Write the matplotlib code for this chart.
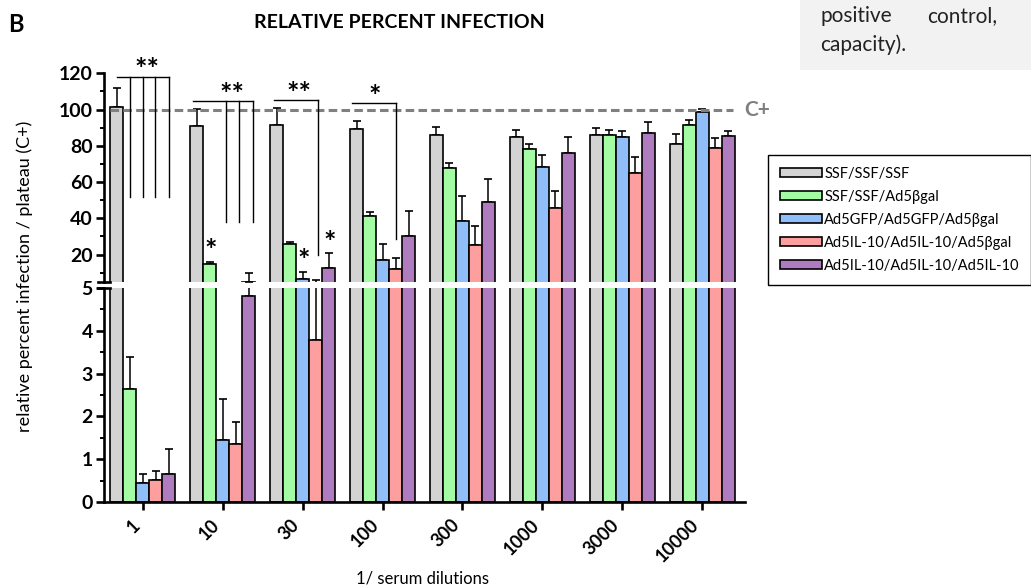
import matplotlib
matplotlib.use('Agg')
import matplotlib.pyplot as plt
import numpy as np
from matplotlib.patches import Rectangle

plt.rcParams['font.family'] = ['Lato', 'DejaVu Sans']

dilutions = ['1', '10', '30', '100', '300', '1000', '3000', '10000']
groups = ['SSF/SSF/SSF', 'SSF/SSF/Ad5βgal', 'Ad5GFP/Ad5GFP/Ad5βgal',
          'Ad5IL-10/Ad5IL-10/Ad5βgal', 'Ad5IL-10/Ad5IL-10/Ad5IL-10']
colors = ['#d3d3d3', '#a3fca3', '#90bef8', '#fe9f9f', '#b07cc0']

# mean and upper SD per dilution
ssf_mean = [101.2, 90.9, 91.5, 89.1, 86.0, 85.0, 85.8, 81.1]
ssf_sd = [10.5, 9.2, 9.2, 4.7, 4.5, 3.9, 4.0, 5.6]
bgal_mean = [2.64, 14.8, 25.8, 41.4, 67.9, 78.1, 86.0, 91.6]
bgal_sd = [0.74, 1.2, 1.3, 2.2, 2.6, 3.0, 2.5, 2.5]
gfp_mean = [0.44, 1.46, 6.3, 16.9, 38.7, 68.1, 85.0, 98.8]
gfp_sd = [0.21, 0.95, 4.2, 8.9, 13.6, 7.0, 3.2, 1.3]
il10b_mean = [0.51, 1.36, 3.77, 11.8, 25.2, 45.5, 64.8, 78.9]
il10b_sd = [0.21, 0.52, 2.1, 6.4, 10.5, 9.7, 9.0, 5.6]
il10_mean = [0.66, 4.81, 12.4, 30.2, 49.1, 76.2, 87.1, 85.2]
il10_sd = [0.59, 4.8, 8.6, 13.8, 12.6, 8.8, 6.2, 3.1]

means = [ssf_mean, bgal_mean, gfp_mean, il10b_mean, il10_mean]
sds = [ssf_sd, bgal_sd, gfp_sd, il10b_sd, il10_sd]

c_plus = 100

# significance brackets: group, bar height, left, right, drop offsets, drop bottom, label, label offset
brackets = [
    (0, 118.1, -0.325, 0.325, [-0.16, 0.0, 0.15, 0.325], 51.7, '**', 0.05),
    (1, 104.7, -0.375, 0.375, [0.04, 0.2, 0.375], 38.1, '**', 0.11),
    (2, 105.3, -0.36, 0.19, [0.19], 19.7, '**', -0.05),
    (3, 103.6, -0.38, 0.17, [0.17], 28.4, '*', -0.1),
]
# single stars over bars: group, series, height
bar_stars = [(1, 1, 24.2), (2, 2, 18.7), (2, 4, 29.1)]

W, H = 1031, 588
fig = plt.figure(figsize=(W / 100, H / 100), dpi=100)

def px_axes(left, top, right, bottom):
    return fig.add_axes([left / W, 1 - bottom / H, (right - left) / W, (bottom - top) / H])

ax_hi = px_axes(104, 73.3, 745, 281.7)
ax_lo = px_axes(104, 287.7, 745, 502.3)

x = np.arange(len(dilutions))
bw = 0.1625
handles = []
for ax in (ax_hi, ax_lo):
    for j in range(len(groups)):
        xs = x + (j - 2) * bw
        b = ax.bar(xs, means[j], bw, color=colors[j], edgecolor='black', linewidth=1.2,
                   label=groups[j], zorder=2)
        ax.errorbar(xs, means[j], yerr=[np.zeros(len(x)), sds[j]], fmt='none', ecolor='black',
                    elinewidth=1.1, capsize=3, capthick=1.2, zorder=1)
        if ax is ax_hi:
            handles.append(b)
    ax.set_xlim(-0.4875, 7.5375)
    for s in ('top', 'right'):
        ax.spines[s].set_visible(False)
    ax.spines['left'].set_linewidth(1.9)
    ax.spines['bottom'].set_linewidth(1.9)
    ax.tick_params(axis='y', which='major', direction='out', length=6, width=1.9, labelsize=14, pad=2)
    ax.tick_params(axis='y', which='minor', direction='out', length=3, width=1.4)

ax_hi.set_ylim(5, 120)
ax_hi.set_yticks(np.arange(20, 121, 20))
ax_hi.set_yticks(np.arange(10, 111, 20), minor=True)
ax_hi.set_yticklabels([str(v) for v in range(20, 121, 20)], fontweight='bold')
ax_hi.spines['bottom'].set_visible(False)
ax_hi.tick_params(axis='x', bottom=False, labelbottom=False)

ax_lo.set_ylim(0, 5)
ax_lo.set_yticks(np.arange(0, 6, 1))
ax_lo.set_yticks(np.arange(0.5, 5, 1), minor=True)
ax_lo.set_yticklabels([str(v) for v in range(6)], fontweight='bold')
ax_lo.set_xticks(x)
ax_lo.set_xticklabels(dilutions, rotation=45, ha='right', fontsize=13, fontweight='bold')
ax_lo.tick_params(axis='x', direction='out', length=6, width=1.9, pad=4)

# axis break marks
ax_hi.plot([-0.0095, 0.0095], [0, 0], transform=ax_hi.transAxes, color='black', lw=1.9, clip_on=False)
ax_lo.plot([-0.0095, 0.0095], [1, 1], transform=ax_lo.transAxes, color='black', lw=1.9, clip_on=False)

# positive control line
ax_hi.plot([-0.41, 7.39], [c_plus, c_plus], color='#808080', lw=2.2, dashes=(2.8, 1.4), zorder=4)
ax_hi.text(7.525, c_plus, 'C+', color='#7f7f7f', fontsize=15, fontweight='bold',
           ha='left', va='center', clip_on=False)

for g, yb, xl, xr, drops, ybot, lab, lx in brackets:
    ax_hi.plot([g + xl, g + xr], [yb, yb], color='black', lw=1.0, zorder=5, clip_on=False)
    for d in drops:
        ax_hi.plot([g + d, g + d], [yb, ybot], color='black', lw=1.0, zorder=5, clip_on=False)
    ax_hi.text(g + lx, yb + 3.5, lab, ha='center', va='center', fontsize=21,
               fontweight='bold', clip_on=False)

for g, j, yv in bar_stars:
    ax_hi.text(g + (j - 2) * bw + 0.01, yv - 2.5, '*', ha='center', va='center', fontsize=21,
               fontweight='bold')

fig.text(0.024, 1 - 276 / H, 'relative percent infection / plateau (C+)', rotation=90,
         ha='center', va='center', fontsize=13)
fig.text(423 / W, 1 - 578 / H, '1/ serum dilutions', ha='center', va='center', fontsize=12)
fig.text(399 / W, 1 - 22 / H, 'RELATIVE PERCENT INFECTION', ha='center', va='center',
         fontsize=14, fontweight='bold')
fig.text(8 / W, 1 - 24 / H, 'B', ha='left', va='center', fontsize=17, fontweight='bold')

# caption fragment box at top right
fig.add_artist(Rectangle((800 / W, 1 - 70 / H), (W - 800) / W, 70 / H, transform=fig.transFigure,
                         facecolor='#f2f2f2', edgecolor='none'))
fig.text(820 / W, 1 - 16 / H, 'positive', ha='left', va='center', fontsize=15, color='#222222')
fig.text(927 / W, 1 - 16 / H, 'control,', ha='left', va='center', fontsize=15, color='#222222')
fig.text(820 / W, 1 - 45 / H, 'capacity).', ha='left', va='center', fontsize=15, color='#222222')

leg = fig.legend(handles, groups, loc='upper left', bbox_to_anchor=(768 / W, 1 - 155 / H),
                 frameon=True, fancybox=False, edgecolor='black', framealpha=1, fontsize=10.5,
                 handlelength=2.9, handleheight=0.6, labelspacing=0.62, handletextpad=0.15,
                 borderpad=0.8, borderaxespad=0)
leg.get_frame().set_linewidth(1.0)

fig.savefig('out.png', dpi=100)
